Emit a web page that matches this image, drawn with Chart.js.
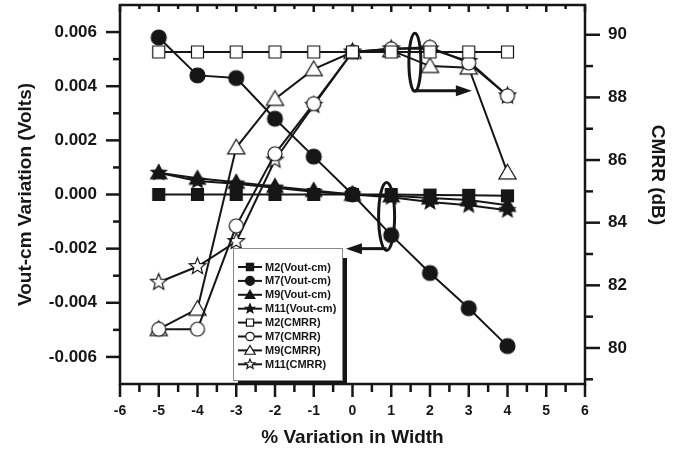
<!DOCTYPE html>
<html>
<head>
<meta charset="utf-8">
<script src="https://cdn.jsdelivr.net/npm/chart.js@4"></script>
<style>
  html, body { margin: 0; padding: 0; background: #fff; }
</style>
</head>
<body>
<canvas id="chart" width="681" height="455"></canvas>
<script>
// % variation in width (x values)
const widthVariation = [-5, -4, -3, -2, -1, 0, 1, 2, 3, 4];

// Vout-cm variation, volts (left axis)
const m2Vout  = [0, 0, 0, 0, 0, 0, 0, -0.00002, -0.00003, -0.00005];
const m7Vout  = [0.0058, 0.0044, 0.0043, 0.0028, 0.0014, 0.0, -0.0015, -0.0029, -0.0042, -0.0056];
const m9Vout  = [0.0008, 0.0006, 0.00045, 0.0003, 0.00015, 0, -0.00005, -0.00013, -0.0002, -0.0004];
const m11Vout = [0.0008, 0.0005, 0.0004, 0.00025, 0.0001, 0, -0.0001, -0.00028, -0.0004, -0.00058];

// CMRR, dB (right axis)
const m2Cmrr  = [89.45, 89.45, 89.45, 89.45, 89.45, 89.45, 89.45, 89.45, 89.45, 89.45];
const m7Cmrr  = [80.6, 80.6, 83.9, 86.2, 87.8, 89.45, 89.55, 89.6, 89.1, 88.05];
const m9Cmrr  = [80.6, 81.25, 86.4, 87.95, 88.9, 89.45, 89.5, 89.0, 88.95, 85.6];
const m11Cmrr = [82.1, 82.6, 83.4, 86.0, 87.75, 89.45, 89.55, 89.55, 89.15, 88.05];

const seriesNames = ['M2(Vout-cm)', 'M7(Vout-cm)', 'M9(Vout-cm)', 'M11(Vout-cm)',
                     'M2(CMRR)', 'M7(CMRR)', 'M9(CMRR)', 'M11(CMRR)'];

// axis ranges and labelled ticks
const xRange = [-6, 6];
const xTicks = [-6, -5, -4, -3, -2, -1, 0, 1, 2, 3, 4, 5, 6];
const voutRange = [-0.007, 0.007];
const voutTicks = [-0.006, -0.004, -0.002, 0, 0.002, 0.004, 0.006];
const cmrrRange = [78.85, 90.95];
const cmrrTicks = [80, 82, 84, 86, 88, 90];

// annotation callouts: ellipse centre and arrow tip, in data units
const cmrrCallout = { cx: 1.61, cy: 89.12, arrowY: 88.21, tipX: 3.08 };
const voutCallout = { cx: 0.88, cy: -0.00081, arrowY: -0.002, tipX: -0.17 };

const FONT = "'Liberation Sans', Arial, sans-serif";
const INK = '#161616';

function drawMarker(ctx, shape, filled, x, y, r) {
    ctx.save();
    ctx.beginPath();
    if (shape === 'square') {
        ctx.rect(x - r, y - r, 2 * r, 2 * r);
    } else if (shape === 'circle') {
        ctx.arc(x, y, r, 0, Math.PI * 2);
    } else if (shape === 'triangle') {
        ctx.moveTo(x, y - r * 1.1);
        ctx.lineTo(x + r * 1.15, y + r * 0.85);
        ctx.lineTo(x - r * 1.15, y + r * 0.85);
        ctx.closePath();
    } else {
        for (let i = 0; i < 10; i++) {
            const a = -Math.PI / 2 + i * Math.PI / 5;
            const rr = i % 2 === 0 ? r * 1.15 : r * 0.5;
            const px = x + rr * Math.cos(a), py = y + rr * Math.sin(a);
            if (i === 0) ctx.moveTo(px, py); else ctx.lineTo(px, py);
        }
        ctx.closePath();
    }
    ctx.fillStyle = filled ? INK : '#fff';
    ctx.fill();
    ctx.lineWidth = 1.2;
    ctx.strokeStyle = INK;
    ctx.stroke();
    ctx.restore();
}

function markerImage(shape, filled, r) {
    const c = document.createElement('canvas');
    const s = Math.ceil(r * 2.8) + 2;
    c.width = s;
    c.height = s;
    drawMarker(c.getContext('2d'), shape, filled, s / 2, s / 2, r);
    return c;
}

const markers = [
    { shape: 'square', filled: true, r: 6 },
    { shape: 'circle', filled: true, r: 7.5 },
    { shape: 'triangle', filled: true, r: 7 },
    { shape: 'star', filled: true, r: 7 },
    { shape: 'square', filled: false, r: 6 },
    { shape: 'circle', filled: false, r: 7 },
    { shape: 'triangle', filled: false, r: 7.5 },
    { shape: 'star', filled: false, r: 7.5 }
];

const allSeries = [m2Vout, m7Vout, m9Vout, m11Vout, m2Cmrr, m7Cmrr, m9Cmrr, m11Cmrr];

const datasets = allSeries.map((values, i) => ({
    label: seriesNames[i],
    data: widthVariation.map((x, j) => ({ x: x, y: values[j] })),
    yAxisID: i < 4 ? 'y' : 'y2',
    borderColor: INK,
    borderWidth: 2,
    pointStyle: markerImage(markers[i].shape, markers[i].filled, markers[i].r),
    pointRadius: 7,
    tension: 0,
    clip: false
}));

function line(ctx, x1, y1, x2, y2) {
    ctx.beginPath();
    ctx.moveTo(x1, y1);
    ctx.lineTo(x2, y2);
    ctx.stroke();
}

function arrow(ctx, x1, y, x2) {
    const dir = Math.sign(x2 - x1);
    line(ctx, x1, y, x2 - dir * 12, y);
    ctx.beginPath();
    ctx.moveTo(x2, y);
    ctx.lineTo(x2 - dir * 16, y - 5.5);
    ctx.lineTo(x2 - dir * 16, y + 5.5);
    ctx.closePath();
    ctx.fill();
}

const framePlugin = {
    id: 'frame',
    afterDraw(chart) {
        const ctx = chart.ctx;
        const xs = chart.scales.x, yl = chart.scales.y, yr = chart.scales.y2;
        const { left, right, top, bottom } = chart.chartArea;
        ctx.save();
        ctx.strokeStyle = INK;
        ctx.fillStyle = INK;
        ctx.lineWidth = 2.5;
        ctx.strokeRect(left, top, right - left, bottom - top);

        for (let k = xRange[0] * 2; k <= xRange[1] * 2; k++) {
            const px = xs.getPixelForValue(k / 2);
            const major = k % 2 === 0;
            line(ctx, px, bottom, px, bottom + (major ? 13 : 8));
            line(ctx, px, top, px, top + (major ? 7 : 4));
        }
        for (let k = -6; k <= 6; k++) {
            const py = yl.getPixelForValue(k * 0.001);
            const major = k % 2 === 0;
            line(ctx, left, py, left - (major ? 14 : 7), py);
        }
        for (let v = 79; v <= 90; v++) {
            const py = yr.getPixelForValue(v);
            const major = v % 2 === 0;
            line(ctx, right, py, right + (major ? 15 : 8), py);
        }

        // right axis title, sits a little above the axis centre
        ctx.save();
        ctx.translate(657, 175);
        ctx.rotate(Math.PI / 2);
        ctx.font = 'bold 19px ' + FONT;
        ctx.textAlign = 'center';
        ctx.textBaseline = 'middle';
        ctx.fillText('CMRR (dB)', 0, 0);
        ctx.restore();

        // callouts
        ctx.lineWidth = 3;
        let cx = xs.getPixelForValue(cmrrCallout.cx), cy = yr.getPixelForValue(cmrrCallout.cy);
        ctx.beginPath();
        ctx.ellipse(cx, cy, 6, 29, 0, 0, Math.PI * 2);
        ctx.stroke();
        arrow(ctx, cx, yr.getPixelForValue(cmrrCallout.arrowY), xs.getPixelForValue(cmrrCallout.tipX));

        cx = xs.getPixelForValue(voutCallout.cx);
        cy = yl.getPixelForValue(voutCallout.cy);
        ctx.beginPath();
        ctx.ellipse(cx, cy, 8, 34, 0, 0, Math.PI * 2);
        ctx.stroke();
        arrow(ctx, cx, yl.getPixelForValue(voutCallout.arrowY), xs.getPixelForValue(voutCallout.tipX));

        // legend box with drop shadow
        const lx = 233, ly = 248, lw = 109, lh = 132;
        ctx.fillStyle = '#fff';
        ctx.fillRect(lx, ly, lw, lh);
        ctx.fillStyle = INK;
        ctx.fillRect(lx + lw, ly + 10, 5, lh - 6);
        ctx.fillRect(lx + 5, ly + lh, lw, 4);
        ctx.strokeStyle = '#888';
        ctx.lineWidth = 1;
        ctx.strokeRect(lx + 0.5, ly + 0.5, lw, lh);

        ctx.font = 'bold 11px ' + FONT;
        ctx.textBaseline = 'middle';
        ctx.textAlign = 'left';
        seriesNames.forEach((name, i) => {
            const ry = ly + 19 + i * 13.9;
            ctx.strokeStyle = INK;
            ctx.lineWidth = 2;
            line(ctx, lx + 5, ry, lx + 29, ry);
            drawMarker(ctx, markers[i].shape, markers[i].filled, lx + 17, ry, markers[i].r * 0.6);
            ctx.fillStyle = INK;
            ctx.fillText(name, lx + 32, ry + 0.5);
        });
        ctx.restore();
    }
};

const tickFont = { family: FONT, size: 17, weight: 'bold' };
const titleFont = { family: FONT, size: 19, weight: 'bold' };

function fixedTicks(list) {
    return scale => { scale.ticks = list.map(v => ({ value: v })); };
}

function fitTo(prop, size) {
    return scale => {
        scale[prop] = size;
        scale.paddingTop = 0;
        scale.paddingBottom = 0;
        scale.paddingLeft = 0;
        scale.paddingRight = 0;
    };
}

new Chart(document.getElementById('chart'), {
    type: 'line',
    data: { datasets: datasets },
    options: {
        responsive: false,
        animation: false,
        layout: { autoPadding: false, padding: { top: 5, left: 0, right: 0, bottom: 0 } },
        plugins: { legend: { display: false }, tooltip: { enabled: false } },
        scales: {
            x: {
                type: 'linear', position: 'bottom', min: xRange[0], max: xRange[1],
                grid: { display: false, drawTicks: false }, border: { display: false },
                afterBuildTicks: fixedTicks(xTicks),
                ticks: { padding: 19, color: INK, maxRotation: 0, autoSkip: false,
                         font: { family: FONT, size: 14, weight: 'bold' },
                         callback: v => String(v) },
                title: { display: true, text: '% Variation in Width', color: INK, font: titleFont,
                         padding: { top: 0, bottom: 6 } },
                afterFit: fitTo('height', 71)
            },
            y: {
                type: 'linear', position: 'left', min: voutRange[0], max: voutRange[1],
                grid: { display: false, drawTicks: false }, border: { display: false },
                afterBuildTicks: fixedTicks(voutTicks),
                ticks: { padding: 23, color: INK, font: tickFont, autoSkip: false,
                         callback: v => Math.abs(v) < 1e-9 ? '0.000' : v.toFixed(3) },
                title: { display: true, text: 'Vout-cm Variation (Volts)', color: INK, font: titleFont,
                         padding: { top: 14, bottom: 0 } },
                afterFit: fitTo('width', 120)
            },
            y2: {
                type: 'linear', position: 'right', min: cmrrRange[0], max: cmrrRange[1],
                grid: { display: false, drawTicks: false }, border: { display: false },
                afterBuildTicks: fixedTicks(cmrrTicks),
                ticks: { padding: 23, color: INK, font: tickFont, autoSkip: false,
                         callback: v => String(Math.round(v)) },
                title: { display: false },
                afterFit: fitTo('width', 96)
            }
        }
    },
    plugins: [framePlugin]
});
</script>
</body>
</html>
